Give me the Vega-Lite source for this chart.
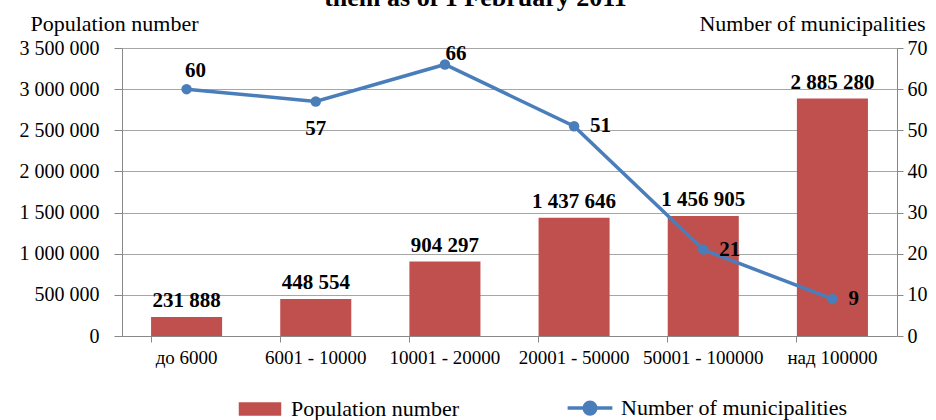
{
  "$schema": "https://vega.github.io/schema/vega-lite/v6.json",
  "width": 775,
  "height": 288,
  "autosize": {"type": "none"},
  "padding": {"left": 122, "top": 48, "right": 39, "bottom": 84},
  "background": "white",
  "config": {
    "locale": {"number": {"decimal": ".", "thousands": " ", "grouping": [3], "currency": ["", ""]}},
    "font": "Liberation Serif",
    "view": {"stroke": null},
    "axis": {
      "labelColor": "#000",
      "titleColor": "#000",
      "titleFontWeight": "normal",
      "domainColor": "#888",
      "tickColor": "#888",
      "gridColor": "#a6a6a6"
    }
  },
  "title": {
    "text": "them as of 1 February 2011",
    "fontSize": 26,
    "fontWeight": "bold",
    "font": "Liberation Serif",
    "frame": "group",
    "anchor": "middle",
    "dx": -34,
    "offset": 1,
    "color": "#000"
  },
  "data": {
    "values": [
      {"group": "до 6000", "population": 231888, "municipalities": 60},
      {"group": "6001 - 10000", "population": 448554, "municipalities": 57},
      {"group": "10001 - 20000", "population": 904297, "municipalities": 66},
      {"group": "20001 - 50000", "population": 1437646, "municipalities": 51},
      {"group": "50001 - 100000", "population": 1456905, "municipalities": 21},
      {"group": "над 100000", "population": 2885280, "municipalities": 9}
    ]
  },
  "layer": [
    {
      "encoding": {
        "x": {
          "field": "group", "type": "nominal", "sort": null,
          "scale": {"paddingInner": 0.45, "paddingOuter": 0.225},
          "axis": {"title": null, "orient": "bottom", "labelAngle": 0, "labelFont": "Liberation Serif", "labelFontSize": 19, "ticks": false, "domain": true, "labelPadding": 12}
        },
        "y": {
          "field": "population", "type": "quantitative",
          "scale": {"domain": [0, 3500000], "nice": false},
          "axis": {
            "values": [0, 500000, 1000000, 1500000, 2000000, 2500000, 3000000, 3500000],
            "format": ",d", "grid": true, "labelFont": "Liberation Serif", "labelFontSize": 20, "tickSize": 8, "labelPadding": 15,
            "title": "Population number", "titleFont": "Liberation Serif", "titleAngle": 0, "titleAlign": "left", "titleBaseline": "alphabetic",
            "titleX": -92, "titleY": -18, "titleFontSize": 22
          }
        }
      },
      "layer": [
        {
          "mark": {"type": "bar"},
          "encoding": {
            "color": {
              "datum": "Population number", "type": "nominal",
              "scale": {"domain": ["Population number", "Number of municipalities"], "range": ["#C0504D", "#4A7EBB"]},
              "legend": {
                "title": null, "orient": "none", "legendX": 127, "legendY": 349, "direction": "horizontal",
                "labelFont": "Liberation Serif", "labelFontSize": 22, "labelColor": "#000", "labelLimit": 400,
                "symbolSize": 2000, "columnPadding": 100, "labelOffset": 20,
                "encode": {
                  "symbols": {
                    "update": {
                      "shape": {"signal": "datum.value === 'Population number' ? 'M-0.95,-0.3L0.95,-0.3L0.95,0.3L-0.95,0.3Z' : 'M-1,0L1,0M-0.26,0A0.26,0.26,0,1,0,0.26,0A0.26,0.26,0,1,0,-0.26,0Z'"},
                      "fill": {"signal": "datum.value === 'Population number' ? '#C0504D' : '#4A7EBB'"},
                      "stroke": {"signal": "datum.value === 'Population number' ? '#C0504D' : '#4A7EBB'"},
                      "strokeWidth": {"signal": "datum.value === 'Population number' ? 0 : 3.5"},
                      "opacity": {"value": 1},
                      "fillOpacity": {"value": 1}
                    }
                  }
                }
              }
            }
          }
        },
        {
          "mark": {"type": "text", "baseline": "bottom", "dy": -6, "fontSize": 21, "fontWeight": "bold", "font": "Liberation Serif", "color": "#000"},
          "encoding": {"text": {"field": "population", "type": "quantitative", "format": ",d"}}
        }
      ]
    },
    {
      "encoding": {
        "x": {
          "field": "group", "type": "nominal", "sort": null,
          "axis": {"title": null, "orient": "bottom", "labels": false, "domain": false, "ticks": true, "tickSize": 6, "bandPosition": 0, "grid": false}
        },
        "y": {
          "field": "municipalities", "type": "quantitative",
          "scale": {"domain": [0, 70], "nice": false},
          "axis": {
            "orient": "right", "values": [0, 10, 20, 30, 40, 50, 60, 70], "grid": false,
            "labelFont": "Liberation Serif", "labelFontSize": 20, "tickSize": 6, "labelPadding": 4,
            "title": "Number of municipalities", "titleFont": "Liberation Serif", "titleAngle": 0, "titleAlign": "right", "titleBaseline": "alphabetic",
            "titleX": 28, "titleY": -18, "titleFontSize": 22
          }
        }
      },
      "layer": [
        {
          "mark": {"type": "line", "strokeWidth": 3.5, "point": {"filled": true, "size": 110}},
          "encoding": {"color": {"datum": "Number of municipalities", "type": "nominal"}}
        },
        {
          "transform": [{"filter": "datum.municipalities == 60"}],
          "mark": {"type": "text", "baseline": "bottom", "dx": 9, "dy": -8, "fontSize": 21, "fontWeight": "bold", "font": "Liberation Serif", "color": "#000"},
          "encoding": {"text": {"field": "municipalities", "type": "quantitative"}}
        },
        {
          "transform": [{"filter": "datum.municipalities == 66"}],
          "mark": {"type": "text", "baseline": "bottom", "dx": 11, "dy": 0, "fontSize": 21, "fontWeight": "bold", "font": "Liberation Serif", "color": "#000"},
          "encoding": {"text": {"field": "municipalities", "type": "quantitative"}}
        },
        {
          "transform": [{"filter": "datum.municipalities == 57"}],
          "mark": {"type": "text", "baseline": "top", "dy": 17, "fontSize": 21, "fontWeight": "bold", "font": "Liberation Serif", "color": "#000"},
          "encoding": {"text": {"field": "municipalities", "type": "quantitative"}}
        },
        {
          "transform": [{"filter": "datum.municipalities == 51 || datum.municipalities == 21 || datum.municipalities == 9"}],
          "mark": {"type": "text", "align": "left", "baseline": "middle", "dx": 16, "fontSize": 21, "fontWeight": "bold", "font": "Liberation Serif", "color": "#000"},
          "encoding": {"text": {"field": "municipalities", "type": "quantitative"}}
        }
      ]
    }
  ],
  "resolve": {"scale": {"y": "independent"}, "axis": {"x": "independent"}}
}
